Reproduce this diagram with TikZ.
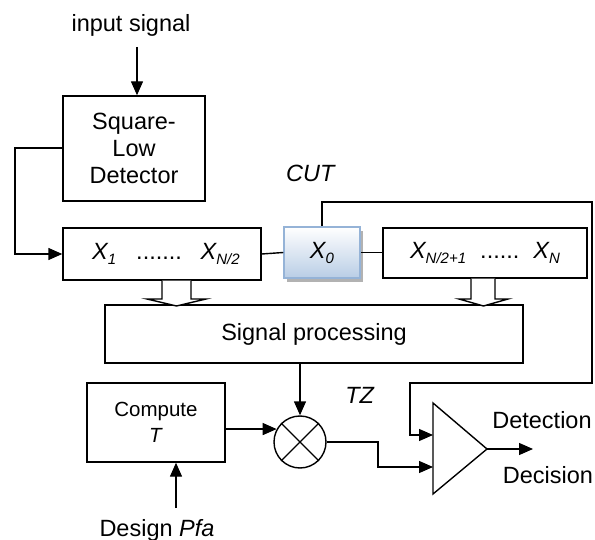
\documentclass[tikz,border=0pt]{standalone}
\usepackage{fontspec}
\setmainfont{Liberation Sans}
\usetikzlibrary{arrows.meta,shadows}
\newcommand{\xsub}[2]{\textit{#1\raisebox{-5pt}{\fontsize{15}{15}\selectfont #2}}}
\begin{document}
\begin{tikzpicture}[x=1pt,y=-1pt,
  font=\fontsize{23.5}{27}\selectfont,
  line width=1.4pt,
  >={Triangle[length=14pt,width=12pt]},
  blk/.style={draw,inner sep=0pt,align=center},
  lbl/.style={inner sep=0pt,align=center}]
\useasboundingbox (0,0) rectangle (595,540);
\definecolor{cutfill}{RGB}{185,205,229}
\definecolor{cutdraw}{RGB}{149,179,215}

% labels
\node[lbl] (insig) at (131,25) {input signal};
\node[lbl] (cut) at (311,173) {\textit{CUT}};
\node[lbl] (tz) at (360,395) {\textit{TZ}};
\node[lbl] (det) at (542,420) {Detection};
\node[lbl] (dec) at (548,475) {Decision};
\node[lbl] (dp) at (157,530) {Design \textit{Pfa}};

% blocks
\node[blk,minimum width=142pt,minimum height=105pt] (sld) at (134,148.5)
  {Square-\\Low\\Detector};
\node[blk,minimum width=198pt,minimum height=52pt] (lb) at (162,254)
  {\hspace{8pt}\xsub{X}{1}\hspace{0.85em}.......\hspace{0.8em}\xsub{X}{N/2}};
\node[blk,minimum width=76pt,minimum height=51pt,draw=cutdraw,line width=1.5pt,
  top color=white,bottom color=cutfill,
  drop shadow={fill=black!30,shadow xshift=3pt,shadow yshift=-4pt,opacity=1}] (x0) at (322,252.5)
  {\xsub{X}{0}};
\node[blk,minimum width=204pt,minimum height=50pt] (rb) at (485,253)
  {\xsub{X}{N/2+1}\hspace{0.6em}......\hspace{0.6em}\xsub{X}{N}};
\node[blk,minimum width=418pt,minimum height=58pt] (sp) at (314,334)
  {Signal processing};
\node[blk,minimum width=138pt,minimum height=79pt,font=\fontsize{20.5}{26}\selectfont] (ct) at (156,422.5)
  {Compute\\\textit{T}};
\node[draw,circle,minimum size=52pt,inner sep=0pt] (m) at (300,442) {};
\draw (m.45) -- (m.225) (m.135) -- (m.315);

% comparator
\coordinate (t1) at (433,403);
\coordinate (t2) at (433,494);
\coordinate (apex) at (487,449);
\draw (t1) -- (t2) -- (apex) -- cycle;
\coordinate (in1) at (433,435);
\coordinate (in2) at (433,467);
\coordinate (outend) at (533,449);

% block arrows
\draw[fill=white] (lb.south -| 162,0) -- (162,299) -- (147,299) -- (176.5,306)
  -- (206,299) -- (191,299) -- (lb.south -| 191,0);
\draw[fill=white] (rb.south -| 471,0) -- (471,299) -- (459,299) -- (483.5,306)
  -- (508,299) -- (495,299) -- (rb.south -| 495,0);

% connectors
\coordinate (insa) at (137,47);
\draw[->] (insa) -- (sld.north -| insa);
\draw[->] (sld.west |- 0,148) -- (15,148) |- (lb.west);
\draw (lb.east) -- (x0.west);
\draw (x0.east) -- (rb.west |- x0.east);
\draw[->] (x0.north) |- (592,202) |- (410,383) |- (in1);
\draw[->] (sp.south -| m.north) -- (m.north);
\draw[->] (ct.east |- m.151) -- (m.151);
\coordinate (dpa) at (176,508);
\draw[->] (dpa) -- (ct.south -| dpa);
\draw[->] (m.east) -- (378,442) |- (in2);
\draw[->] (apex) -- (outend);
\end{tikzpicture}
\end{document}
